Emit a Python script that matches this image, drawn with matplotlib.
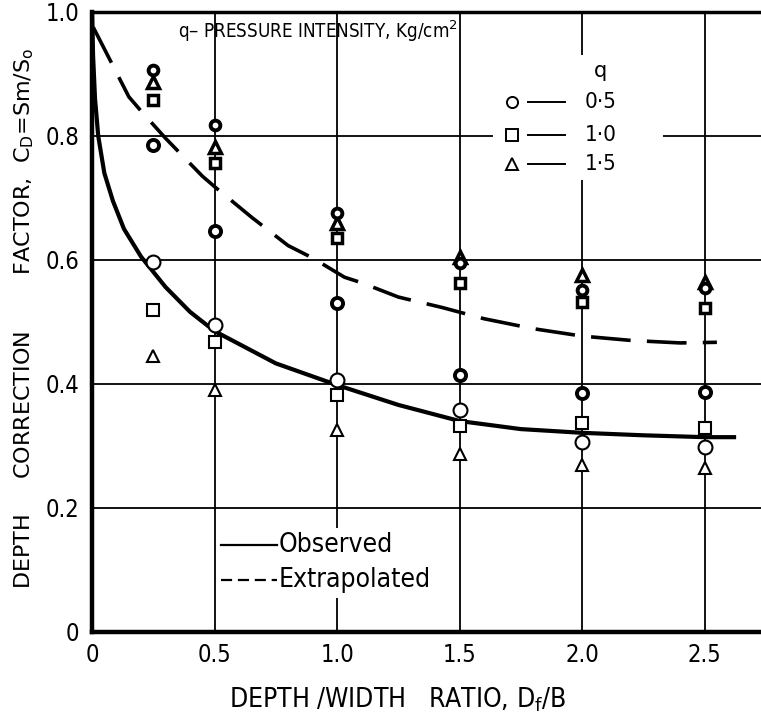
import matplotlib
matplotlib.use("Agg")
import matplotlib.pyplot as plt

plt.rcParams['font.family'] = ['DejaVu Sans']
plt.rcParams['mathtext.fontset'] = 'dejavusans'

# depth/width ratios where the tests were run
ratios = [0.25, 0.5, 1.0, 1.5, 2.0, 2.5]

# upper (dark) group of readings
upper_q05 = [0.906, 0.818, 0.676, 0.595, 0.552, 0.555]
upper_q10 = [0.858, 0.756, 0.635, 0.563, 0.532, 0.523]
upper_q15 = [0.887, 0.782, 0.660, 0.605, 0.576, 0.565]

# middle circles
middle_q05 = [0.785, 0.646, 0.531, 0.415, 0.385, 0.387]

# lower (open) group of readings
lower_q05 = [0.597, 0.495, 0.406, 0.358, 0.306, 0.298]
lower_q10 = [0.519, 0.468, 0.382, 0.332, 0.337, 0.329]
lower_q15 = [0.445, 0.390, 0.326, 0.287, 0.269, 0.265]

# observed curve (solid)
obs_x = [0, 0.004, 0.012, 0.025, 0.05, 0.085, 0.13, 0.2, 0.3, 0.4, 0.5,
         0.75, 1.0, 1.25, 1.5, 1.75, 2.0, 2.25, 2.5, 2.62]
obs_y = [1.0, 0.93, 0.86, 0.8, 0.74, 0.695, 0.65, 0.605, 0.556, 0.516, 0.485,
         0.433, 0.398, 0.366, 0.34, 0.327, 0.321, 0.317, 0.314, 0.314]

# extrapolated curve (dashed)
ext_x = [0.005, 0.15, 0.2, 0.3, 0.45, 0.5, 0.65, 0.8, 0.9, 1.03, 1.1, 1.25,
         1.43, 1.6, 1.8, 2.0, 2.2, 2.4, 2.55]
ext_y = [0.975, 0.863, 0.84, 0.796, 0.735, 0.718, 0.669, 0.623, 0.603, 0.572,
         0.563, 0.54, 0.523, 0.505, 0.489, 0.477, 0.47, 0.466, 0.467]

xticks = [0, 0.5, 1.0, 1.5, 2.0, 2.5]
xtick_labels = ['0', '0.5', '1.0', '1.5', '2.0', '2.5']
yticks = [0, 0.2, 0.4, 0.6, 0.8, 1.0]
ytick_labels = ['0', '0.2', '0.4', '0.6', '0.8', '1.0']

q_labels = ['0·5', '1·0', '1·5']

fig = plt.figure(figsize=(7.61, 7.18), dpi=100)
ax = fig.add_axes([0.121, 0.120, 0.879, 0.8635])

ax.set_xlim(0, 2.73)
ax.set_ylim(0, 1.0)

for x in xticks[1:]:
    ax.axvline(x, color='black', lw=1.3, zorder=1)
for y in yticks[1:-1]:
    ax.axhline(y, color='black', lw=1.3, zorder=1)

ax.plot(obs_x, obs_y, color='black', lw=3.0, zorder=3)
ax.plot(ext_x, ext_y, color='black', lw=2.6, dashes=(11, 4.5), zorder=3)

# markers
open_kw = dict(ls='none', mfc='white', mec='black', zorder=4)
ax.plot(ratios, lower_q05, marker='o', ms=10, mew=1.5, **open_kw)
ax.plot(ratios, lower_q10, marker='s', ms=8, mew=1.5, **open_kw)
ax.plot(ratios, lower_q15, marker='^', ms=9, mew=1.5, **open_kw)

ax.plot(ratios, middle_q05, marker='o', ms=8, mew=2.8, **open_kw)

ax.plot(ratios, upper_q10, marker='s', ms=7, mew=2.5, **open_kw)
ax.plot(ratios, upper_q15, marker='^', ms=8, mew=2.5, **open_kw)
ax.plot(ratios, upper_q05, marker='o', ms=7, mew=2.8, **open_kw)

for side in ['left', 'bottom']:
    ax.spines[side].set_linewidth(3.2)
ax.spines['top'].set_linewidth(2.5)
ax.spines['right'].set_visible(False)

ax.set_xticks(xticks)
ax.set_xticklabels(xtick_labels)
ax.set_yticks(yticks)
ax.set_yticklabels(ytick_labels)
ax.tick_params(length=0, labelsize=17, pad=8)
ax.tick_params(axis='y', pad=9)
for lab in ax.get_xticklabels() + ax.get_yticklabels():
    lab.set_fontstretch('condensed')

# title inside the frame
ax.text(0.129, 0.968, 'q– PRESSURE INTENSITY, Kg/cm$^2$', transform=ax.transAxes,
        fontsize=13.5, ha='left', va='center', fontstretch='condensed', zorder=5)

# q legend
ax.add_patch(plt.Rectangle((0.599, 0.729), 0.254, 0.202, transform=ax.transAxes,
                           facecolor='white', edgecolor='none', zorder=2))
ax.text(0.76, 0.905, 'q', transform=ax.transAxes, fontsize=15, ha='center',
        va='center', zorder=5)
legend_marks = ['o', 's', '^']
legend_rows = [0.855, 0.802, 0.754]
for mk, row, lab in zip(legend_marks, legend_rows, q_labels):
    ax.plot([0.628], [row], marker=mk, ms=8, mfc='white', mec='black', mew=1.4,
            transform=ax.transAxes, zorder=5, clip_on=False)
    ax.plot([0.652, 0.707], [row, row], color='black', lw=1.4,
            transform=ax.transAxes, zorder=5)
    ax.text(0.737, row, lab, transform=ax.transAxes, fontsize=16, ha='left',
            va='center', fontstretch='condensed', zorder=5)

# line legend
ax.add_patch(plt.Rectangle((0.188, 0.055), 0.335, 0.113, transform=ax.transAxes,
                           facecolor='white', edgecolor='none', zorder=2))
ax.plot([0.193, 0.2765], [0.140, 0.140], color='black', lw=1.6,
        transform=ax.transAxes, zorder=5)
ax.plot([0.193, 0.2765], [0.084, 0.084], color='black', lw=1.6,
        dashes=(5, 2.6), transform=ax.transAxes, zorder=5)
ax.text(0.2795, 0.140, 'Observed', transform=ax.transAxes, fontsize=19,
        ha='left', va='center', fontstretch='condensed', zorder=5)
ax.text(0.2795, 0.084, 'Extrapolated', transform=ax.transAxes, fontsize=19,
        ha='left', va='center', fontstretch='condensed', zorder=5)

fig.text(0.032, 0.556,
         'DEPTH     CORRECTION        FACTOR,  C$_{\\mathrm{D}}$=Sm/S$_{\\mathrm{o}}$',
         rotation=90, fontsize=16, ha='center', va='center')
fig.text(0.523, 0.025, 'DEPTH /WIDTH   RATIO, D$_{\\mathrm{f}}$/B', fontsize=19,
         ha='center', va='center', fontstretch='condensed')

fig.savefig('out.png', dpi=100)
